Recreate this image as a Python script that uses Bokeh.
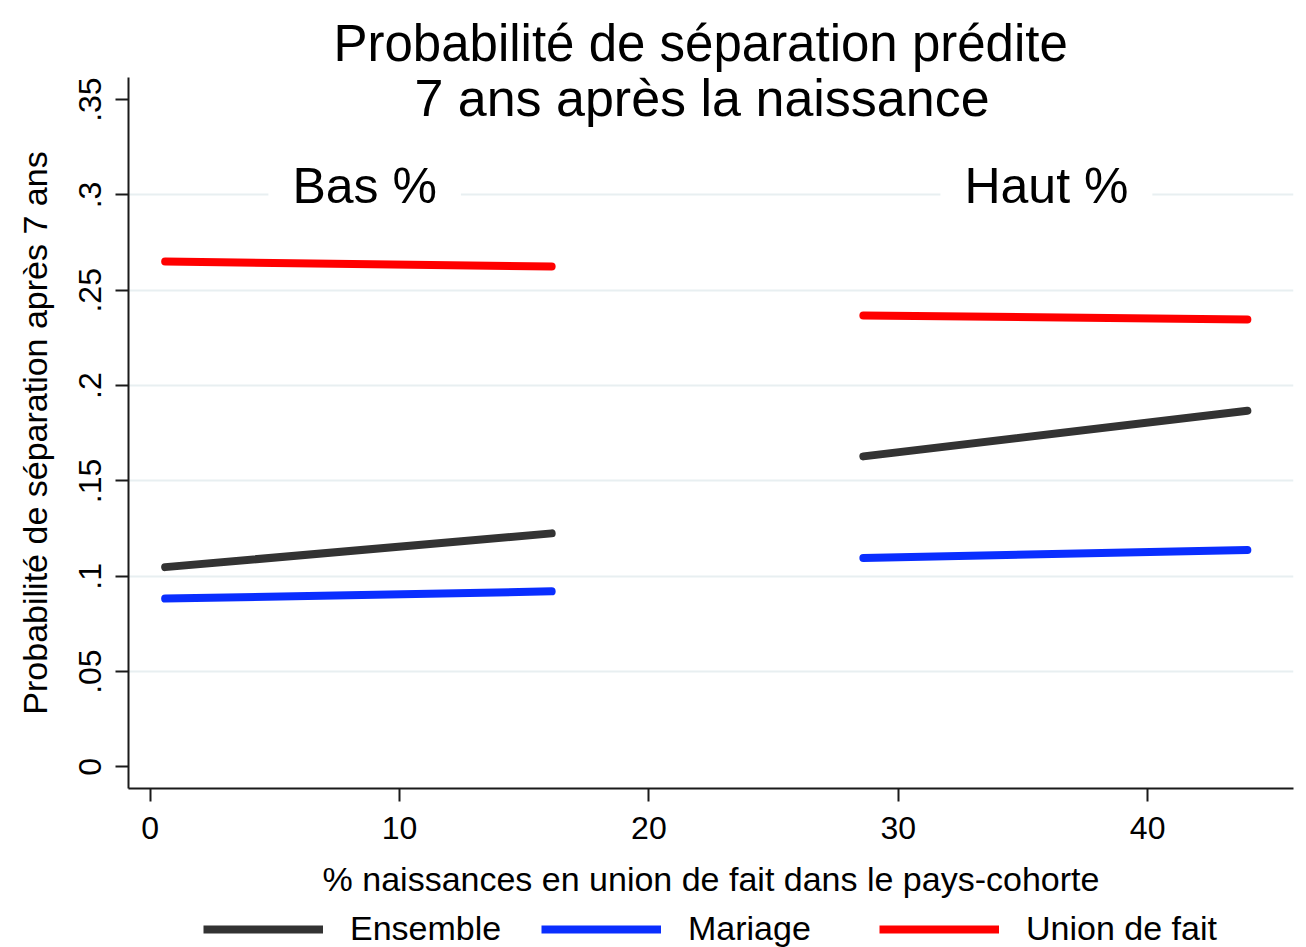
import math
from bokeh.plotting import figure
from bokeh.layouts import column
from bokeh.models import Range1d, FixedTicker, Label, Legend, LegendItem
from bokeh.embed import file_html
from bokeh.resources import INLINE

# ---- data ----
series_names = ["Ensemble", "Mariage", "Union de fait"]
series_colors = ["#333333", "#0a2eff", "#ff0000"]
x_low = [0.6, 16.1]        # "Bas %" group
x_high = [28.6, 44.0]      # "Haut %" group
ensemble_low = [0.1048, 0.1225]
ensemble_high = [0.1629, 0.1868]
mariage_low = [0.0883, 0.0921]
mariage_high = [0.1096, 0.1138]
union_low = [0.2651, 0.2625]
union_high = [0.2368, 0.2347]

x_ticks = [0, 10, 20, 30, 40]
y_ticks = [0, 0.05, 0.1, 0.15, 0.2, 0.25, 0.3, 0.35]
y_tick_labels = ["0", ".05", ".1", ".15", ".2", ".25", ".3", ".35"]
grid_ticks = [0.05, 0.1, 0.15, 0.2, 0.25, 0.3]

group_labels = ["Bas %", "Haut %"]
group_label_x = [8.6, 35.94]
group_label_y = 0.3

title_lines = ["Probabilité de séparation prédite", "7 ans après la naissance"]
x_title = "% naissances en union de fait dans le pays-cohorte"
y_title = "Probabilité de séparation après 7 ans"

FONT = "Liberation Sans"

p = figure(width=1306, height=911, output_backend="svg", toolbar_location=None,
           x_range=Range1d(-0.87, 45.85), y_range=Range1d(-0.0113, 0.3616),
           min_border_left=128, min_border_right=13, min_border_top=77,
           min_border_bottom=123)
p.outline_line_color = None
p.background_fill_color = "white"
p.border_fill_color = "white"

# title line 1 in the title panel
p.title.text = title_lines[0]
p.title.text_font = FONT
p.title.text_font_size = "51px"
p.title.text_font_style = "normal"
p.title.text_color = "black"
p.title.align = "left"
p.title.offset = 205
p.title.standoff = 11

# axes
for ax in (p.xaxis[0], p.yaxis[0]):
    ax.axis_line_color = "#1a1a1a"
    ax.axis_line_width = 2
    ax.major_tick_line_color = "#1a1a1a"
    ax.major_tick_line_width = 2
    ax.major_tick_in = 0
    ax.major_tick_out = 13
    ax.minor_tick_line_color = None
    ax.major_label_text_font = FONT
    ax.major_label_text_font_size = "32px"
    ax.major_label_text_color = "black"
    ax.axis_label_text_font = FONT
    ax.axis_label_text_font_size = "34px"
    ax.axis_label_text_font_style = "normal"
    ax.axis_label_text_color = "black"

p.xaxis.ticker = FixedTicker(ticks=x_ticks)
p.xaxis.major_label_standoff = 15
p.xaxis.axis_label = x_title
p.xaxis.axis_label_standoff = 18

p.yaxis.ticker = FixedTicker(ticks=y_ticks)
p.yaxis.major_label_overrides = {v: s for v, s in zip(y_ticks, y_tick_labels)}
p.yaxis.major_label_orientation = "vertical"
p.yaxis.major_label_standoff = 14
p.yaxis.axis_label = y_title
p.yaxis.axis_label_standoff = 23

p.xgrid.visible = False
p.ygrid.ticker = FixedTicker(ticks=grid_ticks)
p.ygrid.grid_line_color = "#e8eff1"
p.ygrid.grid_line_width = 2

nan = float("nan")
for name, color, lo, hi in zip(series_names, series_colors,
                               [ensemble_low, mariage_low, union_low],
                               [ensemble_high, mariage_high, union_high]):
    xs = x_low + [nan] + x_high
    ys = lo + [nan] + hi
    p.line(xs, ys, line_width=8, line_color=color, line_cap="round")

# group labels with white box hiding the gridline
for txt, gx in zip(group_labels, group_label_x):
    p.add_layout(Label(x=gx, y=group_label_y, text=txt, text_align="center",
                       text_baseline="middle", y_offset=9,
                       text_font=FONT, text_font_size="50px", text_color="black",
                       background_fill_color="white", padding=24))

# title line 2 (overlaps the top of the frame in the reference)
p.add_layout(Label(x=573.5, y=691, x_units="screen", y_units="screen",
                   text=title_lines[1], text_align="center", text_baseline="middle",
                   text_font=FONT, text_font_size="52px", text_color="black"))

# ---- legend strip below the chart ----
leg = figure(width=1306, height=36, output_backend="svg", toolbar_location=None,
             x_range=Range1d(0, 1), y_range=Range1d(0, 1),
             min_border_left=128, min_border_right=13, min_border_top=0, min_border_bottom=0)
leg.outline_line_color = None
leg.xaxis.visible = False
leg.yaxis.visible = False
leg.xgrid.visible = False
leg.ygrid.visible = False
# key-only renderers: their points sit outside the strip's range, only the legend key shows
leg_rends = [leg.line(x=[-2, -1], y=[-2, -1], line_width=8, line_color=c) for c in series_colors]
legend = Legend(items=[LegendItem(label=n, renderers=[r]) for n, r in zip(series_names, leg_rends)],
                orientation="horizontal", location=(75, -1),
                padding=0, margin=0, border_line_color=None, background_fill_alpha=0,
                glyph_width=120, glyph_height=38, label_standoff=27, label_width=172,
                spacing=19, label_text_font=FONT, label_text_font_size="34px",
                label_text_color="black")
leg.add_layout(legend)

layout = column(p, leg, spacing=0)
open("out.html", "w").write(file_html(layout, INLINE))
